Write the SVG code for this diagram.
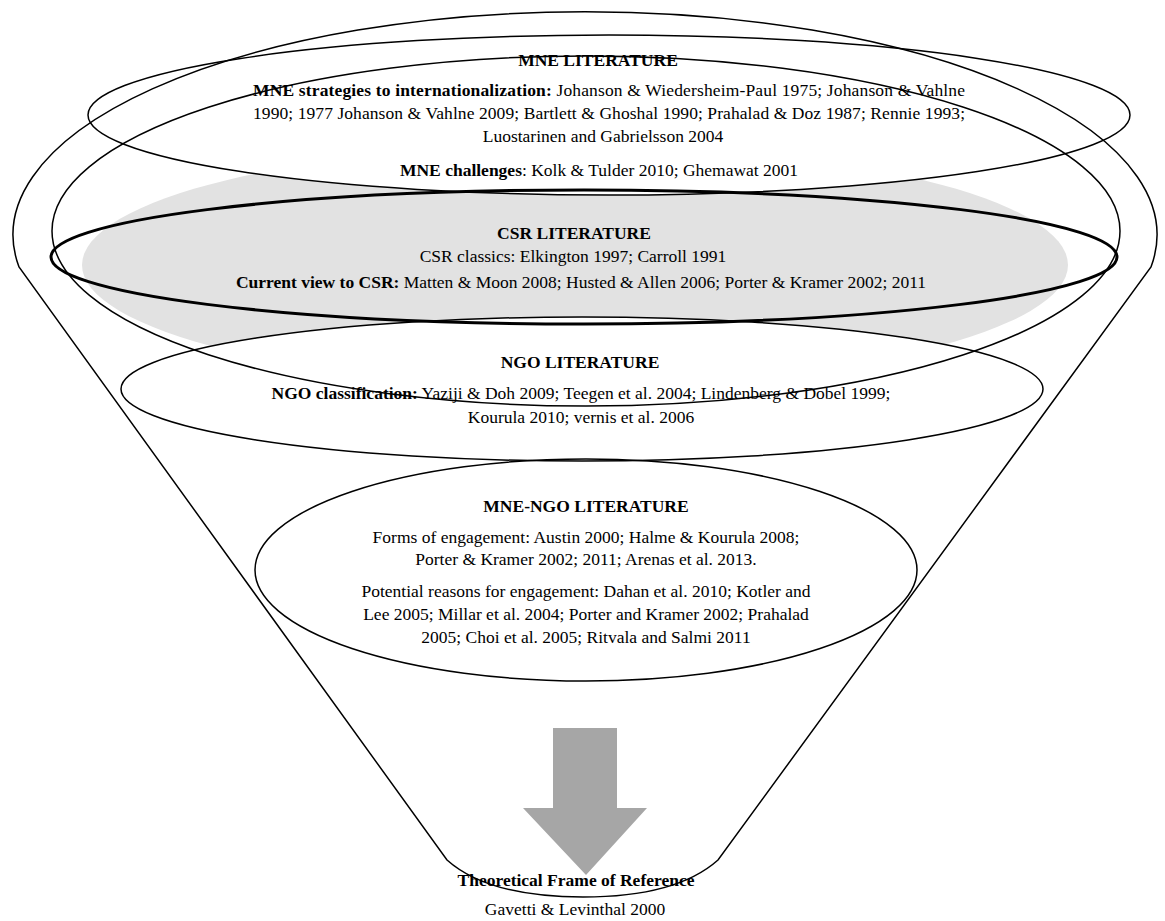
<svg xmlns="http://www.w3.org/2000/svg" xmlns:xlink="http://www.w3.org/1999/xlink" width="1165" height="921" viewBox="0 0 1165 921">
  <style>
    text { font-family: "Liberation Serif", "Times New Roman", serif; font-size: 17.5px; fill: #000; }
    .c { text-anchor: middle; }
    .b { font-weight: bold; }
    .ln { fill: none; stroke: #000; stroke-width: 1.5; }
    .thick { fill: none; stroke: #000; stroke-width: 3; }
    .paper { fill: #fff; stroke: none; }
  </style>
  <defs>
    <ellipse id="e-mne" cx="609" cy="115" rx="521" ry="80"/>
    <ellipse id="e-ngo" cx="582" cy="389" rx="461" ry="72"/>
  </defs>

  <rect width="1165" height="921" fill="#fff"/>

  <!-- shaded band behind the CSR layer, masked by the MNE and NGO layers -->
  <g id="backdrop">
    <ellipse cx="575" cy="265" rx="493" ry="120" fill="#e2e2e2"/>
    <use xlink:href="#e-mne" class="paper"/>
    <use xlink:href="#e-ngo" class="paper"/>
  </g>

  <!-- outer funnel and the wide literature envelope -->
  <g id="funnel">
    <path class="ln" d="M 19 267 A 572 223 0 1 1 1151 267 L 718 860 C 690 885 646 897 583 897 C 520 897 475 885 447 860 Z"/>
    <ellipse class="ln" cx="586" cy="231" rx="534" ry="175"/>
  </g>

  <g id="mne-literature">
    <use xlink:href="#e-mne" class="ln"/>
    <text class="c b" x="598" y="66">MNE LITERATURE</text>
    <text x="253" y="96" textLength="712" lengthAdjust="spacing"><tspan class="b">MNE strategies to internationalization:</tspan> Johanson &amp; Wiedersheim-Paul 1975; Johanson &amp; Vahlne</text>
    <text x="253" y="119" textLength="712" lengthAdjust="spacing">1990; 1977 Johanson &amp; Vahlne 2009; Bartlett &amp; Ghoshal 1990; Prahalad &amp; Doz 1987; Rennie 1993;</text>
    <text class="c" x="603" y="142">Luostarinen and Gabrielsson 2004</text>
    <text class="c" x="599" y="176"><tspan class="b">MNE challenges</tspan>: Kolk &amp; Tulder 2010; Ghemawat 2001</text>
  </g>

  <g id="csr-literature">
    <ellipse class="thick" cx="584" cy="257" rx="533" ry="67"/>
    <text class="c b" x="574" y="239">CSR LITERATURE</text>
    <text class="c" x="573" y="262">CSR classics: Elkington 1997; Carroll 1991</text>
    <text class="c" x="581" y="288"><tspan class="b">Current view to CSR:</tspan> Matten &amp; Moon 2008; Husted &amp; Allen 2006; Porter &amp; Kramer 2002; 2011</text>
  </g>

  <g id="ngo-literature">
    <use xlink:href="#e-ngo" class="ln"/>
    <text class="c b" x="580" y="368">NGO LITERATURE</text>
    <text class="c" x="581" y="399"><tspan class="b">NGO classification:</tspan> Yaziji &amp; Doh 2009; Teegen et al. 2004; Lindenberg &amp; Dobel 1999;</text>
    <text class="c" x="581" y="423">Kourula 2010; vernis et al. 2006</text>
  </g>

  <g id="mne-ngo-literature">
    <ellipse class="ln" cx="586" cy="570" rx="331" ry="111"/>
    <text class="c b" x="586" y="512">MNE-NGO LITERATURE</text>
    <text class="c" x="586" y="543">Forms of engagement: Austin 2000; Halme &amp; Kourula 2008;</text>
    <text class="c" x="586" y="565">Porter &amp; Kramer 2002; 2011; Arenas et al. 2013.</text>
    <text class="c" x="586" y="597">Potential reasons for engagement: Dahan et al. 2010; Kotler and</text>
    <text class="c" x="586" y="620">Lee 2005; Millar et al. 2004; Porter and Kramer 2002; Prahalad</text>
    <text class="c" x="586" y="643">2005; Choi et al. 2005; Ritvala and Salmi 2011</text>
  </g>

  <g id="connectors">
    <polygon points="553,728 617,728 617,808 647,808 586,875 523,808 553,808" fill="#a6a6a6"/>
  </g>

  <g id="frame-of-reference">
    <text class="c b" x="576" y="886">Theoretical Frame of Reference</text>
    <text class="c" x="575" y="915">Gavetti &amp; Levinthal 2000</text>
  </g>
</svg>
